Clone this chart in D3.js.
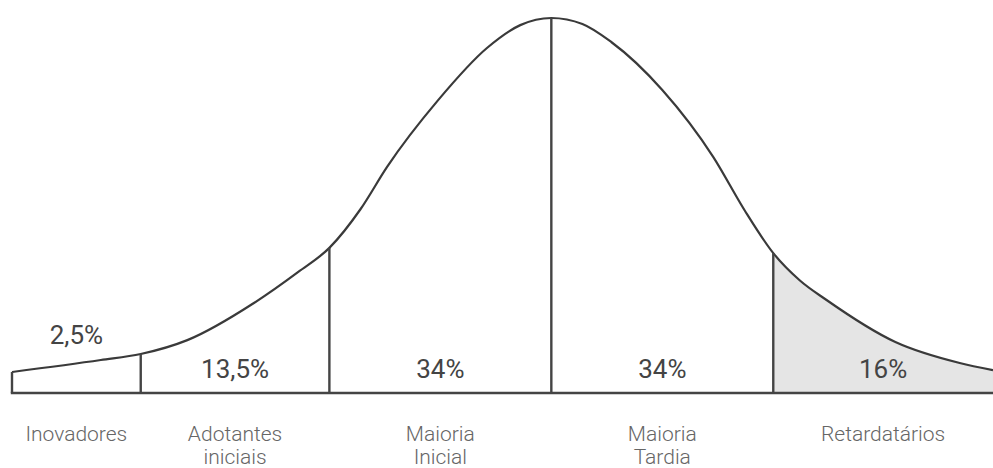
<!DOCTYPE html>
<html>
<head>
<meta charset="utf-8">
<script src="https://cdn.jsdelivr.net/npm/d3@7"></script>
<style>
  html, body { margin: 0; padding: 0; background: #fff; }
  svg { display: block; }
  text { font-family: Roboto, "Noto Sans", sans-serif; }
</style>
</head>
<body>
<svg id="chart" width="993" height="468"></svg>
<script>
// Adoption curve: position in standard deviations from the mean, relative height (peak = 1)
const curveX = [-2.43, -2.03, -1.85, -1.64, -1.34, -1.14, -1.0, -0.86, -0.74, -0.51, -0.29, -0.14, 0,
  0.14, 0.27, 0.50, 0.73, 0.87, 1.0, 1.12, 1.24, 1.55, 1.84, 1.99];
const curveY = [0.056, 0.088, 0.104, 0.141, 0.240, 0.323, 0.387, 0.49, 0.603, 0.781, 0.920, 0.981, 1.0,
  0.984, 0.936, 0.808, 0.629, 0.488, 0.373, 0.300, 0.248, 0.136, 0.080, 0.061];

// Group boundaries (standard deviations) and their shares / names
const bounds = [-2.43, -1.85, -1.0, 0, 1.0, 1.99];
const shares = ["2,5%", "13,5%", "34%", "34%", "16%"];
const groupNames = [["Inovadores"], ["Adotantes", "iniciais"], ["Maioria", "Inicial"], ["Maioria", "Tardia"], ["Retardatários"]];
const shadedGroup = 4;

const svg = d3.select("#chart");
const x = d3.scaleLinear().domain([-2.43, 1.99]).range([12, 993]);
const y = d3.scaleLinear().domain([0, 1]).range([393, 18]);

const pts = curveX.map((v, i) => [v, curveY[i]]);
const heightAt = u => pts.find(p => Math.abs(p[0] - u) < 1e-9)[1];

// shaded tail area
const tail = pts.filter(p => p[0] >= bounds[shadedGroup] - 1e-9 && p[0] <= bounds[shadedGroup + 1] + 1e-9);
svg.append("path")
  .datum(tail)
  .attr("d", d3.area().x(d => x(d[0])).y0(y(0)).y1(d => y(d[1])).curve(d3.curveMonotoneX))
  .attr("fill", "#e5e5e5");

// curve
svg.append("path")
  .datum(pts)
  .attr("d", d3.line().x(d => x(d[0])).y(d => y(d[1])).curve(d3.curveMonotoneX))
  .attr("fill", "none")
  .attr("stroke", "#3a3a3a")
  .attr("stroke-width", 2.2);

// vertical dividers (left edge + inner boundaries)
svg.selectAll("line.div")
  .data(bounds.slice(0, bounds.length - 1))
  .join("line")
  .attr("class", "div")
  .attr("x1", d => x(d)).attr("x2", d => x(d))
  .attr("y1", y(0)).attr("y2", d => y(heightAt(d)))
  .attr("stroke", "#444")
  .attr("stroke-width", 2.4);

// baseline
svg.append("line")
  .attr("x1", x(bounds[0]) - 1.2).attr("x2", x(bounds[bounds.length - 1]))
  .attr("y1", y(0)).attr("y2", y(0))
  .attr("stroke", "#444")
  .attr("stroke-width", 2.6);

const centers = shares.map((s, i) => (bounds[i] + bounds[i + 1]) / 2);

// share labels
svg.selectAll("text.share")
  .data(shares)
  .join("text")
  .attr("class", "share")
  .attr("x", (d, i) => x(centers[i]))
  .attr("y", (d, i) => i === 0 ? 344 : 378)
  .attr("text-anchor", "middle")
  .attr("font-size", 26)
  .attr("fill", "#444")
  .text(d => d);

// group names
const names = svg.selectAll("text.name")
  .data(groupNames)
  .join("text")
  .attr("class", "name")
  .attr("x", (d, i) => x(centers[i]))
  .attr("y", 441)
  .attr("text-anchor", "middle")
  .attr("font-size", 21)
  .attr("font-weight", 300)
  .attr("fill", "#666");
names.selectAll("tspan")
  .data(d => d)
  .join("tspan")
  .attr("x", function () { return d3.select(this.parentNode).attr("x"); })
  .attr("dy", (d, i) => i === 0 ? 0 : 23)
  .text(d => d);
</script>
</body>
</html>
